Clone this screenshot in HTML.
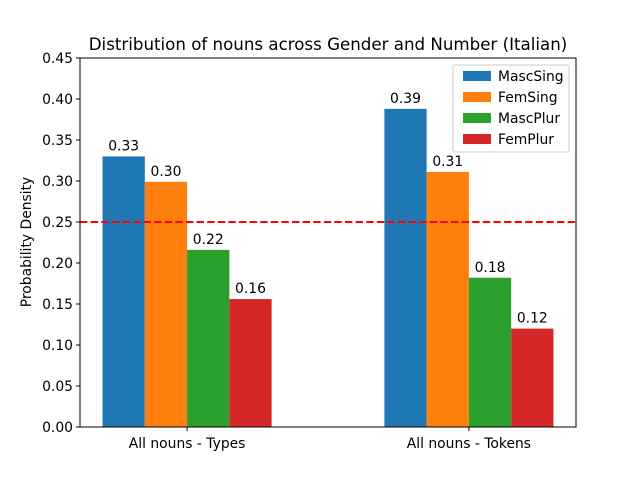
<!DOCTYPE html>
<html><head><meta charset="utf-8"><style>
body{margin:0;background:#fff;}
svg text{font-family:"DejaVu Sans","Liberation Sans",sans-serif;fill:#000;}
</style></head><body>
<svg id="chart" width="640" height="480" xmlns="http://www.w3.org/2000/svg">
<rect width="640" height="480" fill="#fff"/>
<text x="328" y="50" font-size="16.67" text-anchor="middle">Distribution of nouns across Gender and Number (Italian)</text>
<g id="bars"></g>
<g id="yaxis"></g>
<g id="xaxis"></g>
<line id="refline" x1="80" x2="576" stroke="#ff0000" stroke-width="2" stroke-dasharray="7.4,3.2"/>
<rect x="80" y="58" width="496" height="369" fill="none" stroke="#000" stroke-width="1"/>
<text transform="translate(31,242) rotate(-90)" font-size="13.89" text-anchor="middle">Probability Density</text>
<g id="legend">
<rect x="453" y="65" width="116" height="87" rx="2" fill="#fff" fill-opacity="0.8" stroke="#ccc" stroke-width="1"/>
</g>
</svg>
<script>
const categories = ["All nouns - Types", "All nouns - Tokens"];
const seriesNames = ["MascSing", "FemSing", "MascPlur", "FemPlur"];
const colors = ["#1f77b4", "#ff7f0e", "#2ca02c", "#d62728"];
const mascSing = [0.330, 0.388];
const femSing = [0.299, 0.311];
const mascPlur = [0.216, 0.182];
const femPlur = [0.156, 0.120];
const yTicks = [0, 0.05, 0.10, 0.15, 0.20, 0.25, 0.30, 0.35, 0.40, 0.45];
const refValue = 0.25;
const series = [mascSing, femSing, mascPlur, femPlur];
const NS = "http://www.w3.org/2000/svg";
const L=80, R=576, T=58, B=427, yMax=0.45, xMin=-0.38, xMax=1.38, bw=0.15;
const FS=13.89;
const y = v => B - v/yMax*(B-T);
const x = v => L + (v-xMin)/(xMax-xMin)*(R-L);
function mk(tag, attrs, parent){const e=document.createElementNS(NS,tag);for(const k in attrs)e.setAttribute(k,attrs[k]);parent.appendChild(e);return e;}
const bars=document.getElementById('bars');
series.forEach((s,i)=>{
  s.forEach((v,j)=>{
    const cx=j+(i-1.5)*bw;
    const r=mk('rect',{x:x(cx-bw/2),y:y(v),width:x(cx+bw/2)-x(cx-bw/2),height:B-y(v),fill:colors[i]},bars);
    
    
    const t=mk('text',{x:x(cx),y:y(v)-6,'font-size':FS,'text-anchor':'middle'},bars);
    t.textContent=v.toFixed(2);
    
    
  });
});
const ya=document.getElementById('yaxis');
yTicks.forEach(v=>{
  const l=mk('line',{x1:L-4,x2:L,y1:y(v),y2:y(v),stroke:'#000'},ya);
  
  
  const t=mk('text',{x:L-7,y:y(v)+5,'font-size':FS,'text-anchor':'end'},ya);
  t.textContent=v.toFixed(2);
  
  
});
const xa=document.getElementById('xaxis');
categories.forEach((c,j)=>{
  const l=mk('line',{x1:x(j),x2:x(j),y1:B,y2:B+4,stroke:'#000'},xa);
  
  
  const t=mk('text',{x:x(j),y:B+21,'font-size':FS,'text-anchor':'middle'},xa);
  t.textContent=c;
  
  
});
const rl=document.getElementById('refline');
rl.setAttribute('y1',y(refValue));rl.setAttribute('y2',y(refValue));
const lg=document.getElementById('legend');
seriesNames.forEach((n,i)=>{
  const yy=75+i*21;
  const r=mk('rect',{x:463,y:yy-4,width:28,height:10,fill:colors[i]},lg);
  
  
  const t=mk('text',{x:498,y:yy+6,'font-size':FS},lg);
  t.textContent=n;
  
  
});
</script>
</body></html>
